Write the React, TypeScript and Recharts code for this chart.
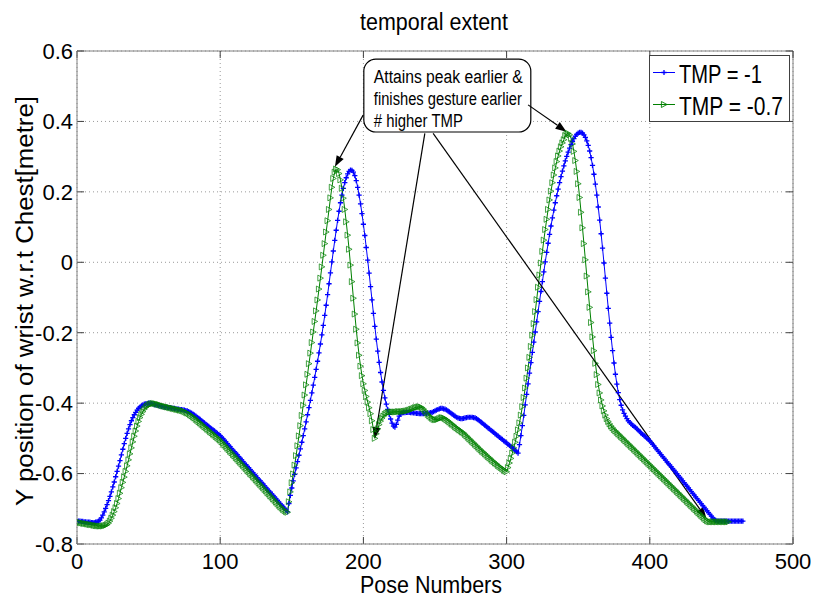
import React from "react";
import {
  LineChart,
  Line,
  XAxis,
  YAxis,
  CartesianGrid,
  ReferenceLine,
  ReferenceArea,
} from "recharts";

// Y position of wrist, one value per pose (pose numbers start at 1)
const TMP_MINUS_1 = [
  -0.735, -0.735, -0.736, -0.736, -0.737, -0.737, -0.738, -0.738, -0.738, -0.739,
  -0.739, -0.739, -0.738, -0.737, -0.735, -0.732, -0.726, -0.718, -0.709, -0.699,
  -0.688, -0.677, -0.665, -0.652, -0.638, -0.624, -0.609, -0.594, -0.579, -0.563,
  -0.547, -0.531, -0.515, -0.5, -0.486, -0.473, -0.461, -0.45, -0.441, -0.433,
  -0.426, -0.42, -0.415, -0.411, -0.408, -0.405, -0.403, -0.402, -0.401, -0.4,
  -0.4, -0.401, -0.402, -0.404, -0.405, -0.406, -0.407, -0.408, -0.409, -0.41,
  -0.411, -0.412, -0.412, -0.413, -0.413, -0.414, -0.415, -0.415, -0.416, -0.417,
  -0.417, -0.418, -0.418, -0.419, -0.42, -0.421, -0.422, -0.424, -0.426, -0.428,
  -0.431, -0.434, -0.437, -0.44, -0.443, -0.446, -0.45, -0.453, -0.456, -0.46,
  -0.463, -0.466, -0.47, -0.473, -0.476, -0.479, -0.483, -0.486, -0.489, -0.492,
  -0.497, -0.501, -0.506, -0.51, -0.515, -0.52, -0.524, -0.529, -0.534, -0.538,
  -0.543, -0.547, -0.552, -0.557, -0.561, -0.566, -0.571, -0.575, -0.58, -0.584,
  -0.589, -0.594, -0.598, -0.603, -0.607, -0.612, -0.617, -0.621, -0.626, -0.63,
  -0.635, -0.64, -0.644, -0.649, -0.653, -0.658, -0.663, -0.667, -0.672, -0.676,
  -0.681, -0.686, -0.69, -0.695, -0.699, -0.704, -0.709, -0.685, -0.662, -0.641,
  -0.621, -0.602, -0.584, -0.566, -0.548, -0.53, -0.511, -0.492, -0.473, -0.453,
  -0.433, -0.413, -0.392, -0.371, -0.349, -0.327, -0.304, -0.281, -0.257, -0.232,
  -0.206, -0.179, -0.151, -0.122, -0.092, -0.061, -0.03, 0.001, 0.032, 0.062,
  0.091, 0.119, 0.145, 0.169, 0.191, 0.21, 0.226, 0.24, 0.251, 0.258,
  0.262, 0.261, 0.256, 0.246, 0.232, 0.213, 0.191, 0.166, 0.138, 0.108,
  0.076, 0.042, 0.006, -0.031, -0.069, -0.107, -0.145, -0.182, -0.218, -0.252,
  -0.284, -0.313, -0.34, -0.364, -0.385, -0.403, -0.418, -0.432, -0.445, -0.457,
  -0.465, -0.468, -0.46, -0.448, -0.437, -0.431, -0.428, -0.427, -0.427, -0.426,
  -0.426, -0.426, -0.427, -0.427, -0.428, -0.428, -0.429, -0.429, -0.43, -0.43,
  -0.43, -0.43, -0.429, -0.429, -0.428, -0.428, -0.427, -0.426, -0.424, -0.422,
  -0.42, -0.418, -0.416, -0.415, -0.415, -0.416, -0.417, -0.419, -0.422, -0.425,
  -0.428, -0.431, -0.434, -0.437, -0.44, -0.442, -0.443, -0.444, -0.444, -0.443,
  -0.442, -0.441, -0.44, -0.44, -0.44, -0.44, -0.441, -0.442, -0.444, -0.447,
  -0.45, -0.453, -0.457, -0.46, -0.463, -0.467, -0.47, -0.473, -0.477, -0.48,
  -0.483, -0.487, -0.49, -0.493, -0.497, -0.5, -0.503, -0.507, -0.51, -0.513,
  -0.517, -0.52, -0.523, -0.527, -0.53, -0.534, -0.538, -0.542, -0.518, -0.492,
  -0.464, -0.435, -0.405, -0.375, -0.345, -0.315, -0.285, -0.256, -0.227, -0.198,
  -0.169, -0.14, -0.111, -0.083, -0.055, -0.027, 0.001, 0.028, 0.054, 0.079,
  0.103, 0.126, 0.148, 0.169, 0.189, 0.208, 0.226, 0.243, 0.259, 0.274,
  0.288, 0.301, 0.313, 0.324, 0.334, 0.343, 0.351, 0.358, 0.363, 0.367,
  0.369, 0.369, 0.367, 0.362, 0.355, 0.345, 0.332, 0.316, 0.297, 0.275,
  0.25, 0.222, 0.191, 0.157, 0.12, 0.081, 0.04, -0.002, -0.045, -0.088,
  -0.131, -0.173, -0.213, -0.251, -0.286, -0.318, -0.346, -0.37, -0.39, -0.406,
  -0.419, -0.429, -0.437, -0.444, -0.45, -0.455, -0.459, -0.463, -0.466, -0.469,
  -0.473, -0.477, -0.481, -0.485, -0.489, -0.492, -0.496, -0.5, -0.503, -0.507,
  -0.512, -0.517, -0.522, -0.527, -0.532, -0.537, -0.542, -0.547, -0.552, -0.557,
  -0.562, -0.567, -0.572, -0.576, -0.581, -0.586, -0.591, -0.596, -0.601, -0.606,
  -0.611, -0.616, -0.621, -0.626, -0.631, -0.636, -0.641, -0.646, -0.651, -0.656,
  -0.661, -0.666, -0.671, -0.676, -0.681, -0.686, -0.691, -0.696, -0.701, -0.706,
  -0.711, -0.716, -0.721, -0.726, -0.73, -0.733, -0.735, -0.735, -0.735, -0.735,
  -0.735, -0.735, -0.735, -0.735, -0.735, -0.735, -0.735, -0.735, -0.735, -0.735,
  -0.735, -0.735, -0.735, -0.735, -0.735,
];

const TMP_MINUS_07 = [
  -0.738, -0.739, -0.74, -0.741, -0.742, -0.742, -0.743, -0.744, -0.745, -0.745,
  -0.746, -0.747, -0.748, -0.748, -0.749, -0.749, -0.749, -0.749, -0.748, -0.747,
  -0.745, -0.741, -0.735, -0.727, -0.718, -0.708, -0.697, -0.685, -0.671, -0.656,
  -0.64, -0.625, -0.61, -0.594, -0.578, -0.561, -0.544, -0.527, -0.51, -0.494,
  -0.479, -0.465, -0.452, -0.441, -0.432, -0.424, -0.417, -0.412, -0.408, -0.405,
  -0.403, -0.402, -0.401, -0.401, -0.402, -0.403, -0.404, -0.405, -0.407, -0.408,
  -0.409, -0.41, -0.411, -0.412, -0.413, -0.414, -0.415, -0.416, -0.417, -0.418,
  -0.419, -0.42, -0.421, -0.422, -0.424, -0.426, -0.428, -0.43, -0.433, -0.436,
  -0.439, -0.442, -0.446, -0.449, -0.453, -0.456, -0.46, -0.463, -0.467, -0.47,
  -0.474, -0.477, -0.481, -0.484, -0.488, -0.491, -0.495, -0.498, -0.502, -0.505,
  -0.51, -0.514, -0.519, -0.523, -0.528, -0.532, -0.537, -0.541, -0.546, -0.55,
  -0.555, -0.559, -0.564, -0.568, -0.573, -0.577, -0.582, -0.586, -0.591, -0.595,
  -0.6, -0.604, -0.609, -0.613, -0.618, -0.622, -0.627, -0.631, -0.636, -0.64,
  -0.645, -0.649, -0.654, -0.658, -0.663, -0.667, -0.672, -0.676, -0.681, -0.685,
  -0.69, -0.694, -0.698, -0.702, -0.705, -0.708, -0.71, -0.68, -0.652, -0.626,
  -0.601, -0.576, -0.549, -0.521, -0.493, -0.464, -0.435, -0.406, -0.377, -0.348,
  -0.318, -0.288, -0.258, -0.228, -0.198, -0.168, -0.138, -0.107, -0.076, -0.045,
  -0.013, 0.02, 0.053, 0.086, 0.118, 0.15, 0.183, 0.213, 0.238, 0.256,
  0.265, 0.263, 0.252, 0.234, 0.21, 0.182, 0.15, 0.115, 0.077, 0.037,
  -0.008, -0.055, -0.102, -0.147, -0.19, -0.229, -0.264, -0.295, -0.322, -0.345,
  -0.364, -0.381, -0.397, -0.413, -0.43, -0.45, -0.475, -0.5, -0.487, -0.473,
  -0.461, -0.451, -0.443, -0.437, -0.432, -0.429, -0.427, -0.426, -0.425, -0.425,
  -0.425, -0.425, -0.425, -0.424, -0.424, -0.424, -0.424, -0.423, -0.423, -0.422,
  -0.421, -0.42, -0.418, -0.417, -0.415, -0.413, -0.412, -0.411, -0.41, -0.411,
  -0.413, -0.417, -0.422, -0.427, -0.432, -0.436, -0.44, -0.443, -0.446, -0.447,
  -0.447, -0.446, -0.444, -0.442, -0.441, -0.442, -0.444, -0.447, -0.45, -0.453,
  -0.457, -0.46, -0.463, -0.467, -0.47, -0.473, -0.476, -0.479, -0.482, -0.485,
  -0.489, -0.493, -0.497, -0.501, -0.505, -0.509, -0.513, -0.517, -0.521, -0.525,
  -0.529, -0.533, -0.537, -0.54, -0.544, -0.548, -0.552, -0.555, -0.559, -0.563,
  -0.566, -0.57, -0.573, -0.577, -0.58, -0.583, -0.586, -0.589, -0.592, -0.595,
  -0.583, -0.57, -0.557, -0.542, -0.527, -0.511, -0.494, -0.476, -0.456, -0.434,
  -0.41, -0.384, -0.357, -0.329, -0.3, -0.27, -0.239, -0.207, -0.174, -0.14,
  -0.106, -0.071, -0.036, -0.002, 0.031, 0.063, 0.093, 0.122, 0.15, 0.177,
  0.202, 0.226, 0.248, 0.268, 0.286, 0.302, 0.316, 0.328, 0.339, 0.348,
  0.36, 0.365, 0.366, 0.362, 0.352, 0.336, 0.315, 0.289, 0.258, 0.223,
  0.184, 0.142, 0.098, 0.053, 0.007, -0.039, -0.084, -0.128, -0.171, -0.212,
  -0.251, -0.287, -0.319, -0.347, -0.371, -0.391, -0.408, -0.422, -0.434, -0.444,
  -0.452, -0.459, -0.465, -0.47, -0.475, -0.479, -0.483, -0.487, -0.491, -0.495,
  -0.499, -0.503, -0.507, -0.511, -0.515, -0.519, -0.523, -0.527, -0.531, -0.535,
  -0.539, -0.543, -0.547, -0.551, -0.555, -0.559, -0.563, -0.567, -0.571, -0.575,
  -0.579, -0.583, -0.587, -0.591, -0.595, -0.599, -0.603, -0.607, -0.611, -0.615,
  -0.619, -0.623, -0.627, -0.631, -0.635, -0.639, -0.643, -0.647, -0.651, -0.655,
  -0.659, -0.663, -0.667, -0.671, -0.675, -0.679, -0.683, -0.687, -0.691, -0.695,
  -0.699, -0.703, -0.707, -0.711, -0.715, -0.719, -0.723, -0.727, -0.731, -0.734,
  -0.736, -0.737, -0.737, -0.737, -0.737, -0.737, -0.737, -0.737, -0.737, -0.737,
  -0.737, -0.737, -0.737, -0.737, -0.737,
];

const X_TICKS = [0, 100, 200, 300, 400, 500];
const Y_TICKS = [-0.8, -0.6, -0.4, -0.2, 0, 0.2, 0.4, 0.6];
const SERIES_NAMES = ["TMP = -1", "TMP = -0.7"];

const TITLE = "temporal extent";
const X_LABEL = "Pose Numbers";
const Y_LABEL = "Y position of wrist w.r.t Chest[metre]";
const NOTE_LINES = ["Attains peak earlier &", "finishes gesture earlier", "# higher TMP"];

// where the note arrows point (pose, y)
const NOTE_ARROWS = [
  { from: { x: 199.8, y: 0.418 }, to: { x: 180.1, y: 0.271 } },
  { from: { x: 242.9, y: 0.366 }, to: { x: 208, y: -0.5 } },
  { from: { x: 248.7, y: 0.366 }, to: { x: 439.5, y: -0.727 } },
  { from: { x: 315, y: 0.447 }, to: { x: 341.8, y: 0.371 } },
];

const blueData = TMP_MINUS_1.map((y, i) => ({ pose: i + 1, y }));
const greenData = TMP_MINUS_07.map((y, i) => ({ pose: i + 1, y }));

const BLUE = "#0000ff";
const GREEN = "#008000";
const FONT = "'Liberation Sans', Arial, sans-serif";

const plusPath = (cx: number, cy: number) =>
  `M${cx - 2.6},${cy}h5.2M${cx},${cy - 2.6}v5.2`;
const triPath = (cx: number, cy: number) =>
  `M${cx - 2.6},${cy - 3}L${cx + 3},${cy}L${cx - 2.6},${cy + 3}Z`;

const PlusDot = (p: any) => {
  if (p.cx == null || p.cy == null) return <g key={p.index} />;
  return <path key={p.index} d={plusPath(p.cx, p.cy)} stroke={BLUE} strokeWidth={1.3} fill="none" />;
};

const TriDot = (p: any) => {
  if (p.cx == null || p.cy == null) return <g key={p.index} />;
  return <path key={p.index} d={triPath(p.cx, p.cy)} stroke={GREEN} strokeWidth={0.9} strokeOpacity={0.8} fill="none" />;
};

const Arrow = (p: any) => {
  const { x1, y1, x2, y2 } = p;
  const dx = x2 - x1;
  const dy = y2 - y1;
  const len = Math.sqrt(dx * dx + dy * dy) || 1;
  const ux = dx / len;
  const uy = dy / len;
  const hl = 11;
  const hw = 4;
  const bx = x2 - ux * hl;
  const by = y2 - uy * hl;
  return (
    <g>
      <line x1={x1} y1={y1} x2={bx} y2={by} stroke="#000" strokeWidth={1.2} />
      <polygon
        points={`${x2},${y2} ${bx - uy * hw},${by + ux * hw} ${bx + uy * hw},${by - ux * hw}`}
        fill="#000"
      />
    </g>
  );
};

const NoteBox = (p: any) => {
  const { x, y, width, height } = p;
  return (
    <g>
      <rect x={x} y={y} width={width} height={height} rx={12} ry={12} fill="#fff" stroke="#000" strokeWidth={1.2} />
      {NOTE_LINES.map((t, i) => (
        <text
          key={t}
          x={x + 10}
          y={y + 24 + i * 22}
          fontFamily={FONT}
          fontSize={18}
          fill="#000"
          textLength={[149, 148, 89][i]}
          lengthAdjust="spacingAndGlyphs"
        >
          {t}
        </text>
      ))}
    </g>
  );
};

const tickColor = "#404040";
const frameColor = "#808080";

export default function App() {
  return (
    <div style={{ position: "absolute", left: 0, top: 0, width: 814, height: 597, background: "#fff" }}>
      <LineChart width={814} height={597} margin={{ top: 51, right: 21, bottom: 13, left: 0 }}>
        <CartesianGrid stroke="#9a9a9a" strokeDasharray="1 3" />
        <XAxis
          type="number"
          dataKey="pose"
          domain={[0, 500]}
          ticks={X_TICKS}
          interval={0}
          allowDataOverflow
          height={40}
          tickSize={0}
          tickMargin={9}
          tickLine={false}
          axisLine={{ stroke: frameColor }}
          tick={{ fontSize: 22, fill: "#000", fontFamily: FONT }}
        />
        <YAxis
          type="number"
          domain={[-0.8, 0.6]}
          ticks={Y_TICKS}
          interval={0}
          allowDataOverflow
          width={77}
          tickSize={0}
          tickMargin={4}
          tickLine={false}
          axisLine={{ stroke: frameColor }}
          tickFormatter={(v: number) => String(v)}
          tick={{ fontSize: 22, fill: "#000", fontFamily: FONT }}
        />
        <ReferenceLine y={0.6} stroke={frameColor} />
        <ReferenceLine x={500} stroke={frameColor} />
        {Y_TICKS.map((v) => (
          <ReferenceLine key={"yl" + v} segment={[{ x: 0, y: v }, { x: 4.9, y: v }]} stroke={tickColor} />
        ))}
        {Y_TICKS.map((v) => (
          <ReferenceLine key={"yr" + v} segment={[{ x: 495.1, y: v }, { x: 500, y: v }]} stroke={tickColor} />
        ))}
        {X_TICKS.map((v) => (
          <ReferenceLine key={"xb" + v} segment={[{ x: v, y: -0.8 }, { x: v, y: -0.78 }]} stroke={tickColor} />
        ))}
        {X_TICKS.map((v) => (
          <ReferenceLine key={"xt" + v} segment={[{ x: v, y: 0.6 }, { x: v, y: 0.58 }]} stroke={tickColor} />
        ))}
        <Line
          data={blueData}
          dataKey="y"
          name={SERIES_NAMES[0]}
          type="linear"
          stroke={BLUE}
          strokeWidth={1}
          dot={PlusDot}
          activeDot={false}
          isAnimationActive={false}
        />
        <Line
          data={greenData}
          dataKey="y"
          name={SERIES_NAMES[1]}
          type="linear"
          stroke={GREEN}
          strokeWidth={1}
          dot={TriDot}
          activeDot={false}
          isAnimationActive={false}
        />
        <ReferenceArea x1={200.3} x2={316.9} y1={0.37} y2={0.577} shape={NoteBox} />
        {NOTE_ARROWS.map((a, i) => (
          <ReferenceLine key={"ar" + i} segment={[a.from, a.to]} shape={Arrow} />
        ))}
      </LineChart>

      <svg
        width={814}
        height={597}
        style={{ position: "absolute", left: 0, top: 0, pointerEvents: "none" }}
      >
        <text x={434} y={30} textAnchor="middle" fontFamily={FONT} fontSize={23} fill="#000" textLength={148} lengthAdjust="spacingAndGlyphs">
          {TITLE}
        </text>
        <text x={431} y={593} textAnchor="middle" fontFamily={FONT} fontSize={24} fill="#000" textLength={142} lengthAdjust="spacingAndGlyphs">
          {X_LABEL}
        </text>
        <text
          x={33}
          y={301}
          transform="rotate(-90 33 301)"
          textAnchor="middle"
          fontFamily={FONT}
          fontSize={23}
          fill="#000"
          textLength={410}
          lengthAdjust="spacingAndGlyphs"
        >
          {Y_LABEL}
        </text>

        <rect x={649.5} y={55.5} width={140} height={66} fill="#fff" stroke="#404040" strokeWidth={1} />
        <line x1={653} y1={72.5} x2={675} y2={72.5} stroke={BLUE} strokeWidth={1} />
        <path d={plusPath(664, 72.5)} stroke={BLUE} strokeWidth={1.3} fill="none" />
        <text x={679} y={83} fontFamily={FONT} fontSize={25} fill="#000" textLength={83} lengthAdjust="spacingAndGlyphs">
          {SERIES_NAMES[0]}
        </text>
        <line x1={653} y1={104.5} x2={675} y2={104.5} stroke={GREEN} strokeWidth={1} />
        <path d={triPath(664, 104.5)} stroke={GREEN} strokeWidth={0.9} fill="none" />
        <text x={679} y={115} fontFamily={FONT} fontSize={25} fill="#000" textLength={104} lengthAdjust="spacingAndGlyphs">
          {SERIES_NAMES[1]}
        </text>
      </svg>
    </div>
  );
}
